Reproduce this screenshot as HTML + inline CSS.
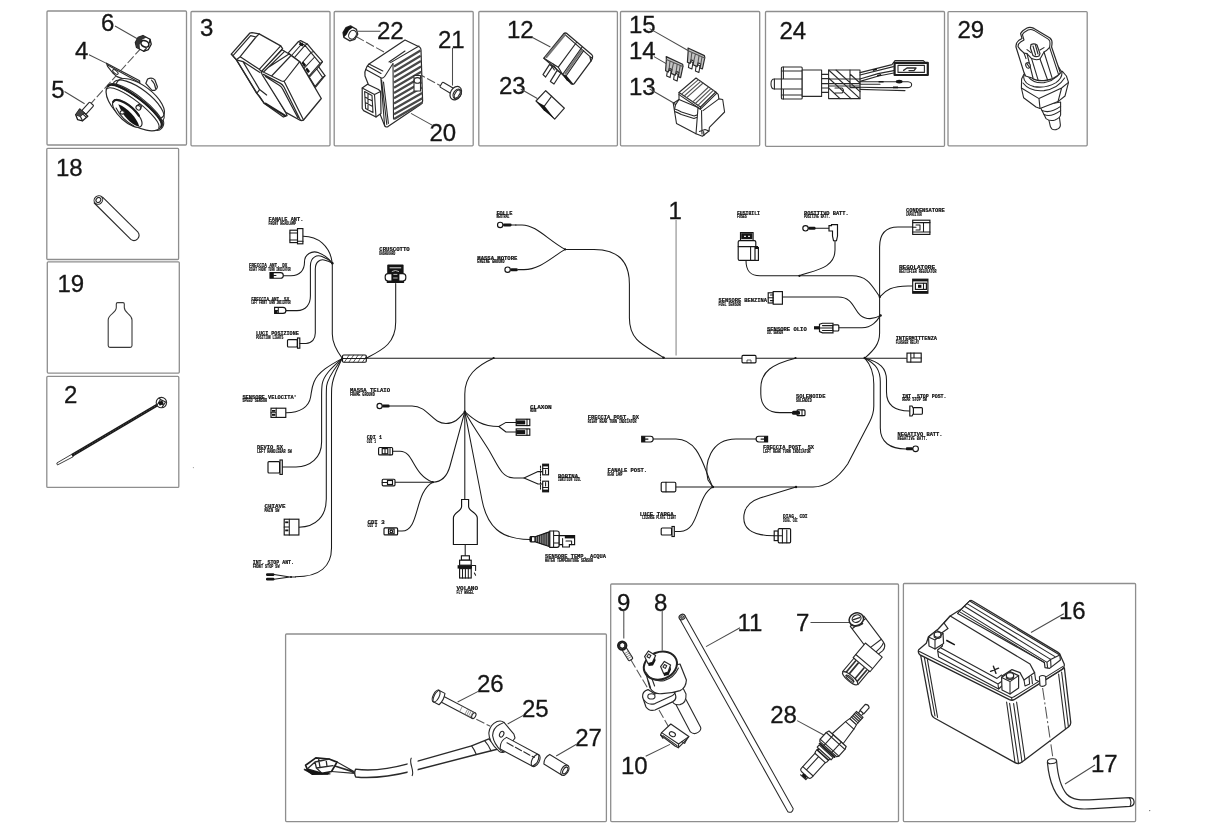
<!DOCTYPE html>
<html><head><meta charset="utf-8"><title>Impianto elettrico</title>
<style>
html,body{margin:0;padding:0;background:#fff;width:1214px;height:829px;overflow:hidden}
svg{display:block;filter:blur(.5px)}
.bx{fill:none;stroke:#8e8e8e;stroke-width:1.3}
.w{fill:none;stroke:#1a1a1a;stroke-width:1.05;stroke-linecap:round;stroke-linejoin:round}
.c{fill:#fff;stroke:#141414;stroke-width:1.15}
.k{fill:#141414;stroke:none}
.p{fill:none;stroke:#2a2a2a;stroke-width:1.1;stroke-linejoin:round;stroke-linecap:round}
.pf{fill:#fff;stroke:#2a2a2a;stroke-width:1.1;stroke-linejoin:round;stroke-linecap:round}
.pt{fill:none;stroke:#555;stroke-width:.6;stroke-linejoin:round;stroke-linecap:round}
.l{fill:none;stroke:#4c4c4c;stroke-width:1.05}
.d{fill:none;stroke:#555;stroke-width:1.05;stroke-dasharray:9 2.5}
.n{font-family:"Liberation Sans",sans-serif;font-size:24px;fill:#161616;stroke:#161616;stroke-width:.3}
.t{font-family:"Liberation Mono",monospace;font-size:6px;fill:#111;font-weight:bold;stroke:#111;stroke-width:.22}
.s{font-family:"Liberation Mono",monospace;font-size:4.7px;fill:#111;font-weight:bold;stroke:#111;stroke-width:.18}
</style></head>
<body>
<svg width="1214" height="829" viewBox="0 0 1214 829">
<rect width="1214" height="829" fill="#fff"/>
<!--BOXES-->
<g id="boxes">
<rect class="bx" x="47" y="11" width="139.5" height="134" rx="1"/>
<rect class="bx" x="191" y="11.5" width="139" height="134.3" rx="1"/>
<rect class="bx" x="334.2" y="11.5" width="139" height="134.3" rx="1"/>
<rect class="bx" x="478.8" y="11.5" width="138.6" height="134.3" rx="1"/>
<rect class="bx" x="620.5" y="11.5" width="139.2" height="134.3" rx="1"/>
<rect class="bx" x="765.5" y="11.5" width="179" height="134.8" rx="1"/>
<rect class="bx" x="948" y="11.6" width="139.2" height="134.2" rx="1"/>
<rect class="bx" x="46.8" y="148.3" width="131.8" height="111.2" rx="1"/>
<rect class="bx" x="47.3" y="261.8" width="132" height="111.3" rx="1"/>
<rect class="bx" x="46.8" y="376.4" width="132" height="111" rx="1"/>
<rect class="bx" x="285.6" y="634" width="320.8" height="187.6" rx="1"/>
<rect class="bx" x="610.7" y="584" width="287.8" height="237.6" rx="1"/>
<rect class="bx" x="903.4" y="583.5" width="232.2" height="238.1" rx="1"/>
</g>
<!--NUMBERS-->
<g id="nums" class="n">
<text x="101" y="30.5">6</text>
<text x="75" y="58.5">4</text>
<text x="51.3" y="97.8">5</text>
<text x="200" y="35.8">3</text>
<text x="377" y="39.2">22</text>
<text x="438" y="48">21</text>
<text x="429.5" y="140.7">20</text>
<text x="507" y="38.4">12</text>
<text x="499" y="93.5">23</text>
<text x="629" y="32.8">15</text>
<text x="629" y="59">14</text>
<text x="629" y="94.9">13</text>
<text x="779.5" y="39.2">24</text>
<text x="957.5" y="37.5">29</text>
<text x="56" y="176">18</text>
<text x="57.5" y="292">19</text>
<text x="64" y="402.8">2</text>
<text x="668.5" y="219">1</text>
<text x="477" y="692.4">26</text>
<text x="522" y="716.8">25</text>
<text x="575.2" y="745.7">27</text>
<text x="617" y="610.8">9</text>
<text x="654" y="610.8">8</text>
<text x="737.5" y="631">11</text>
<text x="796" y="631">7</text>
<text x="770.2" y="723">28</text>
<text x="621" y="774">10</text>
<text x="1059" y="618.6">16</text>
<text x="1091" y="771.8">17</text>
</g>
<g id="harness">
<path id="lead1" d="M676.1,219.8 V355.6" style="fill:none;stroke:#b4b4b4;stroke-width:1.7"/>
<!-- main trunk -->
<path class="w" d="M366.3,358.2 H906.4"/>
<!-- tape -->
<rect class="c" x="342.5" y="355" width="23.8" height="7.2" rx="1.2"/><path class="w" d="M342.5,358.5 H366.3"/>
<path class="w" style="stroke-width:.7" d="M344.5,362 l4.6,-6.8 M349,362 l4.6,-6.8 M353.5,362 l4.6,-6.8 M358,362 l4.6,-6.8 M362.5,362 l3.6,-5.4"/>
<!-- left upper trunk -->
<path class="w" d="M342.5,358.6 C336,350 332.3,343 332.3,334 V263"/>
<circle class="k" cx="332.4" cy="263.2" r="1.2"/>
<!-- fanale ant -->
<path class="w" d="M302.5,236.3 C318,236 330,246 332.3,263"/>
<!-- freccia ant dx -->
<path class="w" d="M282.4,275.7 H291 C300,275.7 304.5,270 304.5,262 C304.5,254 312,250.5 318,252.5 C324,254.5 329,259 332.3,263"/>
<!-- freccia ant sx -->
<path class="w" d="M285.6,310.6 H297 C306,310.6 310.4,304 310.4,296 V266 C310.4,257 317,254.5 322,256.5 C326,258 330,260.5 332.3,263"/>
<!-- luci posizione -->
<path class="w" d="M300.5,343.4 H306 C312,343.4 315.3,339 315.3,333 V269 C315.3,262 320,259 324,260 C327,260.7 330,261.8 332.3,263"/>
<!-- lower-left fan -->
<path class="w" d="M342,358.6 C330,365 318,372 314,382 C311.5,388 311.5,392 310.6,397 C309,407 300,412.7 286.3,412.7"/>
<path class="w" d="M342,358.6 C334,366 324,374 322.2,384 C321.6,388 321.6,392 321.6,396 V442 C321.6,458 310,466.9 296,466.9 H282.4"/>
<path class="w" d="M342,358.6 C337,366 328,376 326.6,386 C326.3,390 326.3,394 326.3,398 V499 C326.3,516 316,527.2 299,527.2"/>
<path class="w" d="M342,358.6 C339,366 332.4,376 331.7,388 C331.5,392 331.5,396 331.5,400 V548 C331.5,566 320,576.8 295.5,576.8"/>
<!-- cruscotto -->
<path class="w" d="M395.7,283.5 V322 C395.7,344 382,350 366.3,358.2"/>
<!-- folle / massa motore -->
<path class="w" d="M515.6,224.9 H522 C536,224.9 548,240 565.1,249.4"/>
<path class="w" d="M518,269.6 H524 C540,269.6 552,257 565.1,249.4"/>
<circle class="k" cx="565.1" cy="249.4" r="1.1"/>
<path class="w" d="M565.1,249.4 H594 C618,249.4 629.4,262 629.4,284 V318 C629.4,342 646,346 664,357.8"/>
<circle class="k" cx="663.5" cy="357.6" r="1.2"/>
<!-- star drop -->
<circle class="k" cx="493.6" cy="358" r="1.1"/>
<path class="w" d="M493.6,358.2 C476,366 464.8,376 464.8,394 V411.7"/>
<circle class="k" cx="464.8" cy="411.7" r="1.2"/>
<!-- massa telaio -->
<path class="w" d="M389.5,406 H412 C428,406 432,423.5 446,423.5 C456,423.5 460,417 464.8,411.7"/>
<!-- cdi group -->
<path class="w" d="M464.8,411.7 L450,466 C447,477 442,482 432.8,482.2"/>
<path class="w" d="M395.2,482.2 H432.8"/>
<circle class="k" cx="432.8" cy="482.2" r="1.1"/>
<path class="w" d="M392.7,451.2 H400 C414,451.2 412,474 432.8,482.2"/>
<path class="w" d="M397.7,531 H402 C420,531 414,492 432.8,482.2"/>
<!-- volano -->
<path class="w" d="M464.8,411.7 V499.5"/>
<path class="c" d="M461.6,499.5 H468.6 V506.5 C468.6,511.5 477.3,512 477.3,518 V544.5 H453.4 V518 C453.4,512 461.6,511.5 461.6,506.5 Z"/>
<path class="w" d="M465.2,544.5 V556"/>
<!-- claxon -->
<path class="w" d="M464.8,411.7 C474,420 482,426.5 498.8,426.5"/>
<path class="w" d="M516,422.4 H506 L498.8,426.5 L506,432 H516"/>
<!-- bobina -->
<path class="w" d="M464.8,411.7 C474,428 484,442 490,452 C498,466 502,478 514,478 H524"/>
<path class="w" d="M542.5,471.6 H538 L524,478 L538,484 H542.5"/>
<!-- temp acqua -->
<path class="w" d="M464.8,411.7 L482,500 C487,526 500,539.5 530,539.5"/>
<!-- rear group -->
<path class="w" d="M676,487 H813 C826,487 838,478 847.7,464 L869.6,422 C872.4,416.6 873.8,412 873.8,406 V384 C873.8,372 870,364 864.8,358.2"/>
<circle class="k" cx="712.8" cy="487" r="1.3"/>
<circle class="k" cx="796" cy="487" r="1.2"/>
<path class="w" d="M653.3,439 H676 C700,439 704,470 712.8,487"/>
<path class="w" d="M756,439 H736 C710,439 704,464 708,480 L712.8,487"/>
<path class="w" d="M675,531.4 H680 C700,531.4 696,496 712.8,487"/>
<path class="w" d="M796,487 L760,498 C748,502 743.8,510 743.8,518 C743.8,530 754,535.8 774.5,535.8"/>
<!-- solenoide -->
<circle class="k" cx="795.5" cy="358" r="1.1"/>
<path class="w" d="M795.5,358.2 C772,364 760.8,372 760.8,388 V394 C760.8,406 768,412.6 780,412.6 H792"/>
<!-- right junction -->
<circle class="k" cx="864.8" cy="358" r="1.3"/>
<path class="w" d="M864.8,358.2 C874,350 879.6,344 879.6,333 V247 C879.6,234 886,227 898,227 H912.5"/>
<path class="w" d="M864.8,358.2 C876,364 880.3,370 880.3,382 V428 C880.3,442 890,449 905.8,449"/>
<path class="w" d="M864.8,358.2 C880,362 886.5,368 886.5,380 V392 C886.5,404 894,411 909.5,411"/>
<circle class="k" cx="879.8" cy="296.8" r="1.2"/>
<circle class="k" cx="880.6" cy="315.4" r="1.2"/>
<!-- fusibili + positivo -->
<path class="w" d="M746,260.5 C746,272 751,275.8 760,275.8 H852 C868,275.8 872,286 879.8,296.8"/>
<path class="w" d="M835,240.7 V250 C835,268 816,270 799,275.8"/>
<circle class="k" cx="799.5" cy="275.8" r="1.1"/>
<!-- regolatore -->
<path class="w" d="M912.5,286 H908 C892,286 886,290 879.8,296.8"/>
<!-- benzina -->
<path class="w" d="M782.4,297 H838 C858,297 852,318.6 870,318.6 C875,318.6 878,317 880.6,315.4"/>
<!-- olio -->
<path class="w" d="M838.8,327.8 H862 C872,327.8 877,321 880.6,315.4"/>
<!-- positivo lead -->
<path class="w" d="M815.3,228.3 H829"/>
</g>
<g id="conn">
<!-- fanale ant -->
<rect class="c" x="289.9" y="230.2" width="7.8" height="12.4"/><rect class="c" x="297.5" y="228.6" width="5.4" height="15.2"/>
<path class="w" d="M290,233 H297.5 M290,240 H297.5 M297.5,241.3 H303"/>
<!-- freccia ant dx -->
<path class="c" d="M270,272.6 H280.5 Q283.3,272.6 283.3,275.4 Q283.3,278.2 280.5,278.2 H270 Z"/><rect class="k" x="270" y="272.6" width="3.8" height="5.6"/><path class="w" d="M273.5,275.4 H276"/>
<!-- freccia ant sx -->
<path class="c" d="M274.6,307.4 H283 Q285.9,307.4 285.9,310.4 Q285.9,313.4 283,313.4 H274.6 Z"/><path class="w" d="M278.3,307.4 V313.4 M274.6,310.4 H278.3"/><rect class="k" x="275" y="310.6" width="2.6" height="2.4"/>
<!-- luci posizione -->
<rect class="c" x="287.5" y="339.6" width="9.8" height="7.4" rx="1"/><rect class="c" x="297.5" y="338" width="2.3" height="10.2"/><path class="w" d="M299.8,343.4 H302"/>
<!-- cruscotto -->
<rect class="k" x="387.2" y="264.4" width="16.4" height="18.6" rx="1"/>
<rect class="c" x="385.2" y="273.6" width="20.6" height="7.4" rx="3"/>
<rect class="k" x="391.4" y="270" width="8" height="11.4"/>
<path d="M389.6,267.8 H401.2" style="stroke:#ddd;stroke-width:1;fill:none"/>
<path d="M391.8,271.6 Q395.4,269.4 399,271.6 M393.4,274.4 H397.4 M393.2,278 H397.6" style="stroke:#ccc;stroke-width:.9;fill:none"/>
<rect class="k" x="386.6" y="281" width="17.6" height="2.1" rx=".8"/>
<!-- sensore velocita -->
<rect class="c" x="271" y="408.2" width="14.8" height="9.2"/><path class="w" d="M276.2,408.2 V417.4 M271,412.8 H276.2"/><rect class="k" x="272" y="410" width="3.4" height="1.8"/><rect class="k" x="272" y="414" width="3.4" height="1.8"/>
<!-- devio sx -->
<rect class="c" x="268" y="461.6" width="11.6" height="11.4" rx="1"/><rect class="c" x="280" y="460" width="2.3" height="14.4"/>
<!-- chiave -->
<rect class="c" x="284.2" y="519.2" width="14.7" height="15.8"/><path class="w" d="M289.3,519.2 V535 M284.2,527 H289.3"/><rect class="k" x="285.2" y="521.4" width="3.2" height="1.8"/><rect class="k" x="285.2" y="529.5" width="3.2" height="1.8"/>
<!-- int stop ant -->
<path class="w" d="M274,574.6 L290,577 H295.5 M274,579.2 L290,577"/><rect class="k" x="266" y="573.2" width="8.4" height="2.7" rx="1.2"/><rect class="k" x="266" y="577.8" width="8.4" height="2.7" rx="1.2"/><circle class="k" cx="291" cy="577" r="1"/>
<!-- massa telaio -->
<circle class="c" cx="379.6" cy="406" r="2.6"/><rect class="k" x="382.2" y="404.6" width="7.4" height="2.8" rx="1.2"/>
<!-- cdi 1 -->
<rect class="c" x="378.6" y="447.5" width="14" height="7.4" rx="1"/><rect class="c" x="382.2" y="448.6" width="5.6" height="5.2"/><path class="w" d="M385,448.6 V453.8 M390,447.5 V454.9"/>
<!-- cdi mid -->
<rect class="c" x="382.2" y="479.2" width="12.8" height="6.6" rx="1"/><rect class="c" x="387.5" y="480.5" width="5" height="4"/><path class="w" d="M382.2,482.4 H387.5"/>
<!-- cdi 3 -->
<rect class="c" x="384" y="527.9" width="13.6" height="7" rx="1"/><rect class="c" x="388.5" y="529" width="5.6" height="4.8"/><circle class="c" cx="391.3" cy="531.4" r="1.3"/>
<!-- volano conn -->
<rect class="c" x="461.4" y="555.8" width="8" height="4.4"/><rect class="c" x="459.6" y="560.2" width="11.6" height="5"/>
<rect class="k" x="457.6" y="565.2" width="14.4" height="3.4"/><rect class="c" x="459.6" y="568.6" width="11.6" height="9.4"/>
<path class="w" d="M462.5,568.6 V578 M465.4,568.6 V578 M468.3,568.6 V578 M472,565.4 H475.6 V570.4 M474.4,573 l1.2,2.2"/>
<!-- claxon -->
<rect class="c" x="516.2" y="419.2" width="13.6" height="6.4"/><rect class="k" x="516.2" y="420.4" width="9" height="4"/><path class="w" d="M527,419.2 V425.6"/>
<rect class="c" x="516.2" y="428.9" width="13.6" height="6.4"/><rect class="k" x="516.2" y="430.1" width="9" height="4"/><path class="w" d="M527,428.9 V435.3"/>
<!-- bobina -->
<rect class="c" x="542.7" y="464.2" width="5.8" height="10.6"/><rect class="k" x="542.7" y="464.2" width="5.8" height="2.2"/><path class="w" d="M542.7,468.5 H548.5 M545.6,470 V473.5"/>
<rect class="c" x="542.7" y="481.2" width="5.8" height="10.6"/><rect class="k" x="542.7" y="489.6" width="5.8" height="2.2"/><path class="w" d="M542.7,487.5 H548.5 M545.6,482.5 V486"/>
<path class="w" style="stroke-dasharray:1.5 1.2" d="M540.5,466 V490"/>
<!-- temp acqua sensor -->
<rect class="c" x="530" y="536.6" width="5.2" height="5.2" rx="1"/><rect class="k" x="530" y="536.6" width="2" height="5.2"/>
<path class="c" style="fill:#8a8a8a" d="M535.2,536.8 L550,531.6 V546.8 L535.2,541.8 Z"/>
<path class="w" style="stroke-width:.9" d="M537.4,536 V542.6 M539.6,535.3 V543.3 M541.8,534.5 V544 M544,533.8 V544.8 M546.2,533 V545.6 M548.4,532.3 V546.3"/>
<path class="c" d="M549.8,531 H557 Q559.2,531 559.2,533 V545.3 Q559.2,547.3 557,547.3 H549.8 Z"/><path class="w" d="M553.6,531 V547.3 M553.6,535.5 H559.2 M553.6,543 H559.2"/>
<path class="c" d="M559.2,535.6 H574.6 V544.6 H569.4 V547 H562.6 V544.6 H559.2 Z"/><rect class="k" x="564.8" y="535.6" width="9.8" height="2.8"/><path class="w" d="M562.6,538.4 V544.6 M566,541 H571.6 V544.6"/>
<!-- freccia post dx -->
<path class="c" d="M641.7,436.2 H650.5 Q653.2,436.2 653.2,439.1 Q653.2,442 650.5,442 H641.7 Z"/><rect class="k" x="641.7" y="436.2" width="3.6" height="5.8"/><path class="w" d="M645.3,439.1 H648"/>
<!-- fanale post -->
<rect class="c" x="661.2" y="482.2" width="14.6" height="9.6" rx="1.2"/><path class="w" d="M666,482.2 V491.8"/>
<!-- luce targa -->
<rect class="c" x="661.2" y="528" width="10.4" height="7" rx="1"/><rect class="c" x="672" y="526.5" width="2.3" height="10"/>
<!-- freccia post sx -->
<path class="c" d="M767.6,436.2 H758.8 Q756.1,436.2 756.1,439.1 Q756.1,442 758.8,442 H767.6 Z"/><rect class="k" x="764" y="436.2" width="3.6" height="5.8"/><path class="w" d="M761,439.1 H764"/>
<!-- diag cdi -->
<rect class="c" x="774.2" y="531" width="4" height="9.6"/><rect class="c" x="778.2" y="528.6" width="12.4" height="14.2" rx="1"/><path class="w" d="M782.4,528.6 V542.8 M786.8,530 V542.8 M774.2,535.8 H782.4"/>
<!-- solenoide -->
<rect class="c" x="797" y="409.9" width="8" height="5.8" rx="1"/><rect class="k" x="792" y="410.8" width="8" height="4" rx="1.5"/><path class="w" d="M802,409.9 V415.7"/>
<!-- fusibili -->
<rect class="c" x="740.5" y="232.6" width="12.6" height="8"/><rect class="k" x="741.2" y="233.2" width="11.2" height="6"/><path d="M744,236.4 h2 M748,236.4 h2" style="stroke:#ddd;stroke-width:1.2;fill:none"/>
<rect class="c" x="738.2" y="240.6" width="17.6" height="19.8" rx="1.5"/><path class="w" d="M738.2,246.6 H755.8 M750.6,246.6 V260.4"/>
<rect class="c" x="755" y="247.5" width="3.4" height="12.9"/><rect class="k" x="755" y="246" width="3" height="3"/>
<!-- positivo batt -->
<circle class="c" cx="805.5" cy="228.3" r="2.7"/><rect class="k" x="808.2" y="226.8" width="7.4" height="3" rx="1.3"/>
<path class="c" d="M829,225.6 H831.5 V224.6 H837.5 V236 L836.5,240.7 H833.5 L832.5,236 V231 H829 Z"/>
<!-- condensatore -->
<rect class="c" x="912.7" y="220.2" width="17.2" height="14.2"/><path class="w" d="M912.7,222.6 H930 M912.7,232 H930 M923.5,222.6 V232 M916,225 H920 V230 H916 M912.7,227.3 H916"/>
<!-- regolatore -->
<rect class="c" x="912.7" y="279.2" width="15.2" height="14"/><rect class="k" x="912.7" y="279.2" width="15.2" height="2.2"/><rect class="k" x="912.7" y="291" width="15.2" height="2.2"/>
<rect class="c" x="915.4" y="283.2" width="11" height="6.2"/><rect class="k" x="918" y="284.8" width="3.4" height="3"/><path class="w" d="M923.5,283.2 V289.4"/>
<!-- benzina -->
<rect class="c" x="768.2" y="292.8" width="5" height="10.2"/><rect class="c" x="773.2" y="291.6" width="9.2" height="12.6"/><path class="w" d="M768.2,297.8 H773.2 M770.4,295 H773.2 M770.4,300.6 H773.2"/>
<!-- olio -->
<rect class="k" x="814" y="326.2" width="6" height="3.2"/><path class="c" d="M819.5,324.2 L822.5,323.2 H833 V332.8 H822.5 L819.5,331.6 Z"/><path class="w" d="M822.5,325.6 H833 M822.5,330.4 H833 M819.5,327.9 H833"/><rect class="c" x="833" y="324.8" width="5.8" height="6.2" rx="1"/>
<!-- intermittenza -->
<rect class="c" x="907" y="353.1" width="14.2" height="9"/><path class="w" d="M910.8,353.1 V362.1 M910.8,357.9 H921.2 M914,353.1 V357.9"/>
<!-- int stop post -->
<rect class="c" x="913" y="407.6" width="9.4" height="6.6" rx="1"/><path class="c" d="M909.8,406 H912 L913.4,408.5 V413.5 L912,416 H909.8 Z"/>
<!-- negativo -->
<circle class="c" cx="915.6" cy="448.8" r="2.8"/><rect class="k" x="905.8" y="447.2" width="7.2" height="3.1" rx="1.3"/>
<!-- folle -->
<circle class="c" cx="500.2" cy="224.9" r="2.7"/><rect class="k" x="503" y="223.4" width="8.6" height="3" rx="1.3"/><path class="w" d="M511,224.9 H516"/>
<!-- massa motore -->
<circle class="c" cx="507.6" cy="269.7" r="2.7"/><rect class="k" x="510.4" y="268.2" width="7.4" height="3" rx="1.3"/>
<!-- inline -->
<rect class="c" x="742" y="355.4" width="14" height="7.4" rx="1"/><path class="w" style="stroke-width:.7" d="M747,362.8 V360 H751 V362.8"/>
</g>
<g id="labels">
<text class="t" x="268.6" y="221" textLength="34.7" lengthAdjust="spacingAndGlyphs">FANALE ANT.</text>
<text class="s" x="268.6" y="224.7" textLength="27.4" lengthAdjust="spacingAndGlyphs">FRONT HEADLAMP</text>
<text class="t" x="249" y="266.9" textLength="38.4" lengthAdjust="spacingAndGlyphs">FRECCIA ANT. DX</text>
<text class="s" x="249" y="270.6" textLength="41.6" lengthAdjust="spacingAndGlyphs">RIGHT FRONT TURN INDICATOR</text>
<text class="t" x="251.2" y="300.5" textLength="38.0" lengthAdjust="spacingAndGlyphs">FRECCIA ANT. SX</text>
<text class="s" x="251.2" y="304.2" textLength="39.4" lengthAdjust="spacingAndGlyphs">LEFT FRONT TURN INDICATOR</text>
<text class="t" x="256" y="334.9" textLength="42.8" lengthAdjust="spacingAndGlyphs">LUCI POSIZIONE</text>
<text class="s" x="256" y="338.6" textLength="27.4" lengthAdjust="spacingAndGlyphs">POSITION LIGHTS</text>
<text class="t" x="379.3" y="251.3" textLength="30.4" lengthAdjust="spacingAndGlyphs">CRUSCOTTO</text>
<text class="s" x="379.3" y="255.0" textLength="15.9" lengthAdjust="spacingAndGlyphs">DASHBOARD</text>
<text class="t" x="242.4" y="398.5" textLength="54.4" lengthAdjust="spacingAndGlyphs">SENSORE VELOCITA&#39;</text>
<text class="s" x="242.4" y="402.2" textLength="24.6" lengthAdjust="spacingAndGlyphs">SPEED SENSOR</text>
<text class="t" x="257" y="449" textLength="26.0" lengthAdjust="spacingAndGlyphs">DEVIO SX</text>
<text class="s" x="257" y="452.7" textLength="34.8" lengthAdjust="spacingAndGlyphs">LEFT HANDLEBAR SW</text>
<text class="t" x="264.6" y="508.3" textLength="21.0" lengthAdjust="spacingAndGlyphs">CHIAVE</text>
<text class="s" x="264.6" y="512.0" textLength="14.9" lengthAdjust="spacingAndGlyphs">MAIN SW</text>
<text class="t" x="252.7" y="564" textLength="41.3" lengthAdjust="spacingAndGlyphs">INT. STOP ANT.</text>
<text class="s" x="252.7" y="567.7" textLength="26.8" lengthAdjust="spacingAndGlyphs">FRONT STOP SW</text>
<text class="t" x="350" y="392.4" textLength="40.0" lengthAdjust="spacingAndGlyphs">MASSA TELAIO</text>
<text class="s" x="350" y="396.1" textLength="24.7" lengthAdjust="spacingAndGlyphs">FRAME GROUND</text>
<text class="t" x="366.8" y="439.4" textLength="15.2" lengthAdjust="spacingAndGlyphs">CDI 1</text>
<text class="s" x="366.8" y="443.1" textLength="9.2" lengthAdjust="spacingAndGlyphs">CDI 1</text>
<text class="t" x="367.5" y="523.5" textLength="17.1" lengthAdjust="spacingAndGlyphs">CDI 3</text>
<text class="s" x="367.5" y="527.2" textLength="9.5" lengthAdjust="spacingAndGlyphs">CDI 3</text>
<text class="t" x="456.5" y="590" textLength="21.5" lengthAdjust="spacingAndGlyphs">VOLANO</text>
<text class="s" x="456.5" y="593.7" textLength="17.5" lengthAdjust="spacingAndGlyphs">FLY WHEEL</text>
<text class="t" x="530" y="408.7" textLength="21.7" lengthAdjust="spacingAndGlyphs">CLAXON</text>
<text class="s" x="530" y="412.4" textLength="6.4" lengthAdjust="spacingAndGlyphs">HORN</text>
<text class="t" x="558" y="477.7" textLength="20.0" lengthAdjust="spacingAndGlyphs">BOBINA</text>
<text class="s" x="558" y="481.4" textLength="23.0" lengthAdjust="spacingAndGlyphs">IGNITION COIL</text>
<text class="t" x="545" y="558" textLength="61.0" lengthAdjust="spacingAndGlyphs">SENSORE TEMP. ACQUA</text>
<text class="s" x="545" y="561.7" textLength="48.0" lengthAdjust="spacingAndGlyphs">WATER TEMPERATURE SENSOR</text>
<text class="t" x="587.8" y="419" textLength="51.2" lengthAdjust="spacingAndGlyphs">FRECCIA POST. DX</text>
<text class="s" x="587.8" y="422.7" textLength="48.7" lengthAdjust="spacingAndGlyphs">RIGHT REAR TURN INDICATOR</text>
<text class="t" x="607.6" y="472" textLength="39.4" lengthAdjust="spacingAndGlyphs">FANALE POST.</text>
<text class="s" x="607.6" y="475.7" textLength="14.8" lengthAdjust="spacingAndGlyphs">REAR LAMP</text>
<text class="t" x="639.7" y="515.5" textLength="33.9" lengthAdjust="spacingAndGlyphs">LUCE TARGA</text>
<text class="s" x="642" y="519.2" textLength="34.0" lengthAdjust="spacingAndGlyphs">LICENSE PLATE LIGHT</text>
<text class="t" x="763" y="449.3" textLength="51.0" lengthAdjust="spacingAndGlyphs">FRECCIA POST. SX</text>
<text class="s" x="763" y="453.0" textLength="47.6" lengthAdjust="spacingAndGlyphs">LEFT REAR TURN INDICATOR</text>
<text class="t" x="783" y="517.8" textLength="24.6" lengthAdjust="spacingAndGlyphs">DIAG. CDI</text>
<text class="s" x="783" y="521.5" textLength="14.7" lengthAdjust="spacingAndGlyphs">DIAG. CDI</text>
<text class="t" x="796" y="397.8" textLength="29.4" lengthAdjust="spacingAndGlyphs">SOLENOIDE</text>
<text class="s" x="796" y="401.5" textLength="15.8" lengthAdjust="spacingAndGlyphs">SOLENOID</text>
<text class="t" x="737" y="214.7" textLength="23.0" lengthAdjust="spacingAndGlyphs">FUSIBILI</text>
<text class="s" x="737" y="218.4" textLength="9.8" lengthAdjust="spacingAndGlyphs">FUSES</text>
<text class="t" x="804" y="214.7" textLength="44.7" lengthAdjust="spacingAndGlyphs">POSITIVO BATT.</text>
<text class="s" x="804" y="218.4" textLength="26.0" lengthAdjust="spacingAndGlyphs">POSITIVE BATT.</text>
<text class="t" x="906" y="211.8" textLength="38.7" lengthAdjust="spacingAndGlyphs">CONDENSATORE</text>
<text class="s" x="906" y="215.5" textLength="15.7" lengthAdjust="spacingAndGlyphs">CAPACITOR</text>
<text class="t" x="899" y="269" textLength="36.0" lengthAdjust="spacingAndGlyphs">REGOLATORE</text>
<text class="s" x="899" y="272.7" textLength="37.5" lengthAdjust="spacingAndGlyphs">RECTIFIER REGULATOR</text>
<text class="t" x="718.5" y="302" textLength="48.5" lengthAdjust="spacingAndGlyphs">SENSORE BENZINA</text>
<text class="s" x="718.5" y="305.7" textLength="22.2" lengthAdjust="spacingAndGlyphs">FUEL SENSOR</text>
<text class="t" x="767" y="330.5" textLength="39.7" lengthAdjust="spacingAndGlyphs">SENSORE OLIO</text>
<text class="s" x="767" y="334.2" textLength="16.0" lengthAdjust="spacingAndGlyphs">OIL SENSOR</text>
<text class="t" x="895.7" y="340.4" textLength="41.3" lengthAdjust="spacingAndGlyphs">INTERMITTENZA</text>
<text class="s" x="895.7" y="344.1" textLength="23.3" lengthAdjust="spacingAndGlyphs">FLASHER RELAY</text>
<text class="t" x="902.2" y="397.7" textLength="44.3" lengthAdjust="spacingAndGlyphs">INT. STOP POST.</text>
<text class="s" x="902.2" y="401.4" textLength="24.7" lengthAdjust="spacingAndGlyphs">REAR STOP SW</text>
<text class="t" x="897.5" y="436" textLength="45.0" lengthAdjust="spacingAndGlyphs">NEGATIVO BATT.</text>
<text class="s" x="897.5" y="439.7" textLength="30.1" lengthAdjust="spacingAndGlyphs">NEGATIVE BATT.</text>
<text class="t" x="496.4" y="214.7" textLength="16.0" lengthAdjust="spacingAndGlyphs">FOLLE</text>
<text class="s" x="496.4" y="218.4" textLength="13.1" lengthAdjust="spacingAndGlyphs">NEUTRAL</text>
<text class="t" x="477.3" y="259.7" textLength="40.1" lengthAdjust="spacingAndGlyphs">MASSA MOTORE</text>
<text class="s" x="477.3" y="263.4" textLength="27.2" lengthAdjust="spacingAndGlyphs">ENGINE GROUND</text>
</g>
<g id="parts">
<g id="p1">
<!-- leaders -->
<path class="l" d="M115,26 L139.5,40 M89,54.8 L107,63.6 M64.5,91.5 L84.6,103.8"/>
<path class="d" d="M141.4,47.8 L90.7,103.8"/>
<!-- nut 6 -->
<g transform="translate(143.3,43.4) rotate(28)">
<path class="pf" style="stroke-width:1.3;stroke:#1c1c1c" d="M-7.4,-3 L-4,-6.8 L4,-6.8 L7.4,-3 L7.4,3 L4,6.8 L-4,6.8 L-7.4,3 Z"/>
<path class="k" d="M-7.4,-3 L-4,-6.8 L0,-6.8 L-2.6,-3 L-2.6,3 L0,6.8 L-4,6.8 L-7.4,3 Z" style="fill:#333"/>
<ellipse class="pf" style="stroke-width:1.6;stroke:#1c1c1c" cx="1.6" cy="-.4" rx="4.2" ry="3"/>
<path class="p" style="stroke-width:1.3" d="M4,-6.8 L5,-3.4 M4,6.8 L5,3"/>
</g>
<!-- bracket 4 -->
<path class="pf" style="stroke-width:1.2" d="M106.5,63.2 L107.6,66.4 L112.8,73 L117,76.6 L140,85 L139.6,80.8 Z"/>
<path class="p" d="M107.6,64.9 L139.4,82.4"/>
<ellipse class="pf" cx="115.4" cy="72" rx="3.3" ry="1.4" transform="rotate(38 115.4 72)"/>
<!-- stud -->
<path class="pf" style="stroke-width:1.2" d="M145.8,83.4 L147.6,79 Q152,77 154.8,79.8 L157.4,86.8 Q156.4,91 152,90.4 Z"/>
<path class="p" d="M151.5,80.2 Q155,83.4 155.6,88.6"/>
<!-- back body -->
<ellipse class="pf" style="stroke-width:1.2" cx="140.3" cy="98.8" rx="28.8" ry="12.8" transform="rotate(37.5 140.3 98.8)"/>
<ellipse class="p" cx="138.6" cy="101" rx="31" ry="11.6" transform="rotate(37.5 138.6 101)"/>
<!-- bottom tab -->
<path class="pf" d="M152,128.6 Q158,132.4 161.6,128.4 Q164.6,125 163.4,120.6 L156,122 Z"/>
<!-- rim + front dome -->
<g transform="translate(134.6,106.4) rotate(37.5)">
<path class="pf" style="stroke-width:1.2" d="M-33.6,0 A33.6,8.6 0 0 1 33.6,0 A33.6,16.6 0 0 1 -33.6,0 Z"/>
<path class="p" style="stroke-width:2.3;stroke:#1c1c1c" d="M-33.4,-.4 A33.4,8.6 0 0 1 33.4,-.4"/>
<path class="p" style="stroke-width:1.1" d="M-32.4,2.6 A32.4,8 0 0 1 32.4,2.6"/>
<path class="p" style="stroke-width:1.1" d="M-33,-3 A33.6,9.6 0 0 1 33,-3"/>
</g>
<!-- inner diaphragm -->
<g transform="translate(127.3,113.6) rotate(42)">
<ellipse class="pf" style="stroke-width:1.2" cx="0" cy="0" rx="18.6" ry="7.6"/>
<path class="p" style="stroke-width:2.2;stroke:#1c1c1c" d="M-18.4,.6 A18.4,7.4 0 0 1 10,-6.2"/>
<path class="k" d="M-13,-1 C-4,-4.6 10,-3.4 17.6,1.6 C10,6 -2,4.6 -13,-1 Z"/>
<path class="p" d="M-12,3.4 Q0,8.4 14,4.6"/>
</g>
<ellipse class="pf" cx="122.2" cy="112.4" rx="2.1" ry="1.7"/>
<!-- small boss -->
<ellipse class="pf" cx="138.4" cy="107.8" rx="2.6" ry="2.1" transform="rotate(40 138.4 107.8)"/>
<path class="p" d="M136.8,105.8 L139.2,103.8 L141.6,106.2 L140.2,109"/>
<!-- bolt 5 -->
<g transform="translate(84.5,111.8) rotate(-48)">
<rect class="pf" x="-1" y="-2.8" width="11.8" height="5.6" rx="1"/>
<path class="pf" style="stroke-width:1.3;stroke:#1c1c1c" d="M-8,-4.6 L-1,-5.4 L-1,5.4 L-8,4.6 L-10.4,0 Z"/>
<path class="p" style="stroke-width:1.2" d="M-8,-4.6 L-6.2,0 L-8,4.6 M-6.2,0 H-1 M-2.8,-5.2 V5.2"/>
<path class="k" style="fill:#444" d="M-8,-4.6 L-6.2,0 L-1,0 L-1,-5.4 Z"/>
</g>
</g>
<g id="p2">
<!-- connectors at back right -->
<path class="pf" style="stroke-width:1.2" d="M288.3,52.9 L298.5,41.5 L300.6,40.6 L307.3,44 L313.7,51.6 L322.5,61.7 L318.7,66.8 L325,75.7 L315.6,87.2 L299.7,61.7 Z"/>
<path class="p" d="M298.5,41.5 L305,45.4 L307.3,44 M305,45.4 L294.6,57.4 M305,45.4 L311,52.6 L302,63 M311,52.6 L313.7,51.6 M311,52.6 L320,63.4 L322.5,61.7 M320,63.4 L307.6,77.6 M314.6,57 L304,68.4 M316.8,69 L318.7,66.8 M316.8,69 L322.6,77.4 L325,75.7 M322.6,77.4 L313.6,88 M316.8,69 L309.6,77 M302.6,43 L292,55"/>
<path class="k" d="M300,42.6 l4,2 l-1.6,1.8 l-3.6,-2 z M303.2,61.6 l3,3.4 l-2,2 l-2.6,-4 z M307,67.6 l3,3.6 l-2,2 l-2.6,-4 z M312.6,83 l2.2,3 l-1.2,1.2 l-2,-3.2 z"/>
<!-- left block -->
<path class="pf" style="stroke-width:1.3" d="M231.3,54.1 L249.7,33.2 L252,32.6 L259.2,33.9 L280.7,45.9 L282.6,48.6 L262,72 L286,113 L287,115.6 L283.4,117 L264.3,103.5 L257,93.4 L236.4,59.8 Z"/>
<path class="p" style="stroke-width:1.2" d="M231.3,54.1 L236.4,59.8 L240.2,56.7 L256,37 L259.2,33.9 M256,37 L250.6,35.6 L233,55.6 M240.2,56.7 L259.2,69.3 L262,72 M236.4,59.8 L243,61.6 L260,72.6 M243,61.6 L259.6,89.6 L256.7,93.4 M259.6,89.6 L266.6,95 M236.4,59.8 L256.7,93.4 L259.4,96.2 L264.3,103.5 M259.2,69.3 L280.7,45.9"/>
<path class="p" style="stroke-width:2;stroke:#222" d="M265.6,103.6 L285,115.6"/>
<!-- right block -->
<path class="pf" style="stroke-width:1.3" d="M261.7,71.2 L282,49.7 L288.3,53.5 L299.7,61.7 L321.3,98.5 L303.5,120 Q301.6,121 299.6,120 L285.8,112.4 L262.4,75 Q261,73 261.7,71.2 Z"/>
<path class="p" style="stroke-width:1.2" d="M261.7,71.2 L281.6,81 Q284,82 285.4,80 L299.7,61.7 M284.5,82 L303.5,120 M263.4,74.4 L280.4,83.4 Q282.6,84.6 284,87 L300.6,120.4 M265.4,76.6 L279.6,85.6 Q281.6,87 283,89.6 L298,118 M263.6,72 L284.6,51.4 M269.3,66.8 L289,54.1 M271.6,76 L290.6,56"/>
</g>
<g id="p3">
<path class="l" d="M357.7,31.2 H380.4 M452.5,47.8 V85.4 M411,113.4 L433,125.6"/>
<path class="d" d="M356,36.5 L384,52 M417,73 L441.6,86.3"/>
<!-- nut 22 -->
<g transform="translate(350.6,33.6) rotate(30)">
<path class="pf" style="stroke-width:1.3" d="M-7,-3 L-4,-6.6 L3,-6.6 L6.5,-3 L6.5,3 L3,6.6 L-4,6.6 L-7,3 Z"/>
<path class="k" d="M-7,-3 L-4,-6.6 L-1,-6.6 L-3,-2 L-3,3 L-4,6.6 L-7,3 Z"/>
<ellipse class="pf" cx="2.2" cy="0" rx="3.6" ry="4.6"/>
</g>
<!-- regulator body -->
<path class="pf" style="stroke-width:1.2" d="M405,40 L419.5,47 Q421,48 421,50 L422.6,101 Q422.6,103.4 420.6,104.6 L388,126.6 Q385.8,127.8 384.6,125.6 L365,76 Q364.2,72 365.8,69.4 Q366.8,66 369,64 Z"/>
<!-- front (left) face -->
<path class="p" d="M365.8,69.4 L380.8,77.8 Q383,79 385,76 L393,63.5 M380.8,77.8 L384.6,125.6 M367.6,66 L381,73.5 M381.6,80 L386.8,124.5 M383.5,82 L388.4,123.4 M369,64 L382.8,71"/>
<path class="p" d="M389,62 L405,51 M393,64 L393.5,119 M390.6,62.6 L419,46"/>
<!-- fins -->
<path class="p" style="stroke-width:2.3;stroke:#484848;stroke-linecap:butt" d="M394,66.5 L420.5,50.5 M394,71.8 L420.7,55.8 M394,77.1 L420.9,61.1 M394,82.4 L421.1,66.4 M394,87.7 L421.3,71.7 M394,93 L421.5,77 M394,98.3 L421.7,82.3 M394,103.6 L421.9,87.6 M394,108.9 L422.1,92.9 M394,114.2 L422.3,98.2 M394,119 L422.4,102.6"/>
<path class="pf" d="M414,75.5 H420.5 V91 H414 Z"/>
<ellipse class="pf" cx="417.4" cy="80.4" rx="3.2" ry="2.8"/>
<!-- connector -->
<path class="pf" style="stroke-width:1.2" d="M362.2,88 L367.5,84.2 L378.5,89.5 L380.6,91.5 L381,113.5 L376,117 L363.6,110.6 L362.2,108.5 Z"/>
<path class="p" d="M362.2,88 L374.5,94.5 L380.6,91.5 M374.5,94.5 L376,117 M364.6,91.5 L372,95.6 L373,112.6 L365.6,108.6 Z M365,97 L372.4,101 M365.2,102.6 L372.7,106.6 M368,93.4 V110"/>
<!-- bolt 21 -->
<g transform="translate(441.2,84.4) rotate(31)">
<rect class="pf" x="0" y="-2.9" width="13" height="5.8" rx="1"/>
<ellipse class="pf" style="stroke-width:1.2" cx="17" cy="0" rx="5.2" ry="7.2"/>
<ellipse class="pf" style="stroke-width:1.2" cx="18.6" cy="0" rx="3.6" ry="5.2"/>
<path class="p" d="M18.6,-5.2 L20.8,-2.6 L20.8,2.6 L18.6,5.2 L16.6,2.6 L16.6,-2.6 Z"/>
</g>
</g>
<g id="p4">
<path class="l" d="M532,37.3 L550.4,47 M520.7,89 L537.3,98.5"/>
<!-- relay 12 pins -->
<path class="pf" style="stroke-width:1.2" d="M549.4,64.6 L543,74.6 L545.6,77 L552.4,66.6 Z"/>
<path class="pf" style="stroke-width:1.2" d="M557,70.6 L550.4,81.4 L554,84 L561,73 Z"/>
<!-- body -->
<path class="pf" style="stroke-width:1.3" d="M543.9,58.2 L563.6,33.8 Q565,32.4 566.8,33.4 L591.6,54.4 Q593.4,56.2 592.4,58.2 L590.9,61.2 L574.4,83.4 Q572.8,84.8 571,83.6 L562.6,74.5 Z"/>
<path class="p" style="stroke-width:1.2" d="M543.9,58.2 L558.3,67.2 L576.4,42.5 M558.3,67.2 L562.6,74.5 L581.9,47.3 M565,34.6 L589.8,56.4 L590.9,61.2 M589.8,56.4 L592.4,58.2 M562.6,74.5 L566,76 L583.6,50.6 M566,76 L572.8,84.1"/>
<path class="p" style="stroke:#777;stroke-width:2.2" d="M546.4,57 L564.4,35.4 M565.4,73.6 L581.4,50.6"/>
<path class="k" d="M562.6,74.5 L566,76 L572.8,84.1 L566.6,80.6 Z"/>
<path class="p" d="M553,64 L556.6,69.6 M551.6,66 L554.4,70"/>
<!-- block 23 -->
<path class="pf" style="stroke-width:1.2" d="M545.7,90.7 L564.4,108.2 L554.7,119.1 L536,101 Z"/>
<path class="p" style="stroke-width:1.1" d="M551.7,96.2 L544.5,105.8"/>
<path class="k" d="M536,101 L544.5,105.8 L554.7,119.1 L543.6,110.2 Z"/>
</g>
<g id="p5">
<path class="l" d="M649.6,28.6 L688,50.5 M654,56.6 L666.2,63.6 M649.6,89 L675,103.8"/>
<!-- fuse 15 -->
<g transform="translate(687.4,48)">
<path class="pf" d="M2,13 L1,19.5 L4.5,21 L5.6,14.5 Z M9,16 L8,23 L11.5,24.5 L12.6,18 Z"/>
<path class="pf" style="stroke-width:1.2;fill:#c4c4c4" d="M0.6,0 L17,7.6 L17.4,9.6 L15,21 L12.6,20 L13.4,16 L10.6,14.8 L9.8,18.6 L5.6,16.8 L6.4,13 L3.6,11.8 L2.8,15.4 L0,14.2 L0.8,2.8 Z"/>
<path class="p" style="stroke:#555" d="M0.8,2.8 L17.2,10 M4.4,4.4 L3.6,11.8 M8,6 L6.4,13 M11.6,7.6 L10.6,14.8 M14.6,9 L13.4,16"/>
</g>
<!-- fuse 14 -->
<g transform="translate(665.6,56.6)">
<path class="pf" d="M2,13 L1,19.5 L4.5,21 L5.6,14.5 Z M9,16 L8,23 L11.5,24.5 L12.6,18 Z"/>
<path class="pf" style="stroke-width:1.2;fill:#c4c4c4" d="M0.6,0 L17,7.6 L17.4,9.6 L15,21 L12.6,20 L13.4,16 L10.6,14.8 L9.8,18.6 L5.6,16.8 L6.4,13 L3.6,11.8 L2.8,15.4 L0,14.2 L0.8,2.8 Z"/>
<path class="p" style="stroke:#555" d="M0.8,2.8 L17.2,10 M4.4,4.4 L3.6,11.8 M8,6 L6.4,13 M11.6,7.6 L10.6,14.8 M14.6,9 L13.4,16"/>
</g>
<!-- holder 13 -->
<path class="pf" style="stroke-width:1.1" d="M673.3,103.3 L679,99.5 L679,92.5 L696,78 L715.7,92 L718.2,94.4 L718.9,98.9 L722.7,99.5 L724.6,112 L709.4,127.3 L709,131 L702.4,136.2 L696,133.7 L676.5,123.5 Z"/>
<path class="p" d="M679,92.5 L700.5,107 L715.7,92 M679,94.6 L700.5,109.2 L716.6,93.4 M700.5,107 V109.2"/>
<path class="p" style="stroke:#555" d="M681.6,94.2 L698.4,79.7 M684.2,96 L700.7,81.4 M686.7,97.7 L703.1,83 M692.8,101.8 L708.6,87 M695.3,103.5 L711,88.6 M697.9,105.3 L713.3,90.3"/>
<path class="p" d="M679,99.5 L698,107.6 L700.5,109.2 M698,107.6 L696,133.7 M673.3,103.3 L675.6,104.6 L674.6,109 Q677,109.6 681.5,112 L694.2,116 L697.3,114.7 M675.6,104.6 L679,99.5 M674.8,111.6 Q677,112 681.3,114.4 L694,118.4 L697,117.2 M701.5,110.6 L702,134 M718.9,98.9 L703,110.6 M703.6,131.6 L704,135.4 M699.4,131.4 L705,129.4 L709,131"/>
</g>
<g id="p6">
<!-- left tab -->
<path class="pf" d="M782,79 H774.4 Q771,79 771,84 Q771,89 774.4,89 H782 Z"/><path class="p" d="M774.4,79 V89"/>
<!-- block 1 -->
<rect class="pf" x="781.4" y="67" width="20.8" height="32" rx="1"/>
<path class="p" d="M781.4,71 H802.2 M781.4,95 H802.2 M783.4,67 V79 M783.4,89 V99 M781.4,79 H802.2 M781.4,89 H802.2"/>
<!-- block 2 -->
<rect class="pf" x="802.2" y="70" width="19.4" height="26.4"/>
<!-- short wires -->
<path class="p" d="M821.6,74.4 H828.6 M821.6,78.6 H828.6 M821.6,83.6 H828.6 M821.6,88 H828.6 M821.6,92.4 H828.6"/>
<!-- hatch block -->
<rect class="pf" x="828.6" y="70" width="31.4" height="28.6"/>
<path class="p" d="M828.6,70 L860,98.6 M836,70 L860,91.6 M828.6,78 L851,98.6 M828.6,88 L840,98.6 M850,70 V87.6 M850,87.6 H860 M850,74 L860,83 M835,88 H842 Q845,90.4 842,93 H835"/>
<path class="p" d="M828.6,79 H860 M828.6,83.6 H860 M828.6,86 H860"/>
<!-- wires to right connector -->
<path class="p" d="M860,72.6 L892,64.6 L895,60.6 H923.4 L925,62.4 M860,75 L893.4,66.6 M860,79 L878,73.6 L893.8,70.6 M860,81.4 L878.6,76 L893.8,73"/>
<path class="k" d="M872.6,69.6 l4,-1 l.4,1.4 l-4,1 z M877,75 l4,-1 l.4,1.4 l-4,1 z"/>
<!-- right connector -->
<rect class="pf" style="stroke-width:2.2;stroke:#1e1e1e" x="894.6" y="62.8" width="33.2" height="12.2"/>
<rect class="pf" x="898" y="65.4" width="26.4" height="7"/>
<path class="p" style="stroke-width:1.3" d="M903.6,70.4 L907,68 H916 L914,70.6 H909"/>
<!-- loop wire -->
<path class="p" d="M860,81.8 H908 Q911.8,82.2 911.6,85 Q911.4,87.6 907.6,87.6 L880,87.6 L860,87.2 M860,84.2 H880 M860,89.4 L880,90 L905,90.6"/>
<ellipse class="k" cx="899.2" cy="81.6" rx="3.4" ry="1.9"/>
<path class="k" d="M878.6,81 h5 v1.6 h-5 z M893,86.6 h5 v1.6 h-5 z"/>
</g>
<g id="p7">
<!-- tip -->
<path class="pf" d="M1048.4,118 L1050.4,126.6 Q1052,130.6 1056,129.6 Q1060.4,128.4 1060.4,125 L1059,114 Z"/>
<!-- thread body -->
<path class="pf" d="M1039.7,106 L1046,118.6 Q1050,121.6 1055,120 Q1060,118 1060.6,115 L1060.6,102 Z"/>
<path class="p" d="M1042,110.6 Q1050,114 1060.6,106.4 M1044,114.6 Q1051,117.6 1060.6,110.6"/>
<!-- hex nut -->
<path class="pf" style="stroke-width:1.1" d="M1021.6,79 L1024,74 L1062.4,71.4 L1066.4,76 L1068.5,82.4 L1065,96 L1058,101.6 L1040,108.4 L1036,107 L1023.6,97.7 L1021.4,88 Z"/>
<path class="p" d="M1021.4,88 L1039,98.6 L1040,108.4 M1039,98.6 L1061.6,88 L1068.5,82.4 M1061.6,88 L1058,101.6 M1023,83 Q1030,92 1044,90.6 Q1058,88.6 1064.6,78"/>
<!-- collar -->
<path class="pf" d="M1023.6,77 Q1024,84 1034,86.6 Q1046,88.6 1056,82.6 Q1062,78.6 1062,72.6 L1058,66 L1026,70 Z"/>
<path class="p" d="M1029,77.6 Q1034,83.6 1044,82.6 Q1053,81.4 1057.6,75"/>
<!-- connector housing -->
<path class="pf" style="stroke-width:1.2" d="M1020.6,33.6 Q1022,30.6 1027,28 Q1030,26.6 1034,28.4 L1050,38 Q1052.4,40 1052,44 L1051.6,47 L1060.4,73 Q1055,79.6 1044,80.6 Q1035,81 1032,78 L1025.6,76 L1024,72.6 L1016,47 Q1015.6,43 1018.6,40.6 L1022,38.4 Z"/>
<path class="p" d="M1022.4,34.6 Q1024,32 1028,30 Q1031,28.8 1034,30.4 L1048.6,39.4 Q1050.4,41 1050,44 L1049.6,47.4 Q1047,50.6 1044,52 L1040,59 Q1036,60.6 1031.6,58.6 L1027,53.6 L1024,53 Q1020,50 1018,46.6 Q1018,43.6 1020.6,42 L1024,40 Z"/>
<path class="p" d="M1027,53.6 L1033,78 M1040,59 L1047.6,80 M1049.6,47.4 L1058.6,74.6 M1024,53 L1026,58.6 M1031.6,58.6 L1038,79.6 M1044,52 L1052,77.6"/>
<!-- inner pin -->
<path class="pf" style="stroke-width:1.2" d="M1030.4,48 L1031,44.6 Q1034,43 1037,45 L1040,53.6 L1039,56 Q1036,57.6 1033,55.6 Z"/>
<path class="p" d="M1033,46 L1035.6,55 M1035.4,45 L1038,54 M1027,49.6 L1031,52.6 M1040,50 L1044,47.6"/>
<ellipse class="pf" cx="1028" cy="65.4" rx="2.2" ry="2.8" transform="rotate(-20 1028 65.4)"/>
<path class="p" d="M1027,63.6 L1029.2,67"/>
</g>
<g id="p8">
<!-- tube 18 -->
<path class="pf" style="stroke:#2a2a2a;stroke-width:1.1" d="M94.2,203 L130.8,239.4 Q134.4,242 137.6,238.8 Q140.4,235.6 138,232.2 L102.6,197.2 Z"/>
<ellipse class="pf" style="stroke:#2a2a2a;stroke-width:1.1" cx="98.4" cy="200" rx="4.6" ry="4" transform="rotate(-45 98.4 200)"/>
<ellipse class="pf" style="stroke:#2a2a2a;stroke-width:1.1" cx="98.4" cy="200" rx="2.6" ry="2.2" transform="rotate(-45 98.4 200)"/>
<!-- bottle 19 -->
<path class="pf" style="stroke:#3a3a3a;stroke-width:1.1" d="M117.6,302.6 H123 Q124.3,302.6 124.3,304 V307.6 C124.3,313.6 132,313.6 132,320 V345.6 Q132,347.4 130.2,347.4 H110 Q108.2,347.4 108.2,345.6 V320 C108.2,313.6 116.3,313.6 116.3,307.6 V304 Q116.3,302.6 117.6,302.6 Z"/>
<!-- cable tie 2 -->
<path class="pf" style="stroke-width:.9" d="M57.3,464.6 L56.8,463 L71.6,454.4 L73,456.4 Z"/>
<path d="M72,455.4 L158.6,404.2" style="stroke:#1a1a1a;stroke-width:3;fill:none"/>
<path d="M74,454.2 L156,405.7" style="stroke:#777;stroke-width:.6;stroke-dasharray:1 2;fill:none"/>
<circle class="pf" style="stroke-width:1.1" cx="161.4" cy="402.6" r="5.2"/>
<path class="p" d="M157,405.2 L160.6,399.4 L165.6,402 L162,407.4 M160.6,399.4 L159,398 M158.6,402.6 L163.6,405"/>
<rect class="k" x="158.6" y="401.2" width="4.6" height="3.6" transform="rotate(-30 161 403)"/>
<circle class="k" cx="193.4" cy="467.6" r=".6" style="fill:#999"/>
<circle class="k" cx="1149.7" cy="810.6" r=".7" style="fill:#666"/>
</g>
<g id="p9">
<path class="l" d="M478.7,691.1 L457.6,702 M523.3,715.4 L507.6,724 M576.5,744.3 L556.2,756"/>
<path class="d" d="M476.3,719.3 L490.4,726.3"/>
<!-- cable -->
<path class="pf" style="stroke-width:1.4" d="M355.7,769.1 C366,770.6 384,770.4 408.9,763.6 L471.6,745.9 L488.9,738.9 L498.2,749 L476.3,754.5 L410.5,771.5 C386,777.6 366,778 355.7,777 Q353.6,773 355.7,769.1 Z"/>
<path class="p" d="M471.6,745.9 Q474.6,750 476.3,754.5 M484.6,740.6 Q489,745.6 491,750.8"/>
<path d="M407.6,758 H417.6 V776.6 H407.6 Z" fill="#fff" stroke="none"/>
<path class="p" d="M411.2,758.2 C408.6,763 414.6,770 412.2,775.6"/>
<!-- connector -->
<path class="p" d="M337,762.1 L354,771.6 M331.5,771.5 L354.6,773.4 M334,766 L354,772.4 M329,764 L352,771"/>
<path class="pf" style="stroke-width:1.7;stroke:#1c1c1c" d="M305.6,765.2 L315.8,757.9 L329.1,759 L337,762.1 L331.5,771.5 L322,773.4 L307.2,769.1 Z"/>
<path class="p" style="stroke-width:1.3" d="M307.2,769.1 L315,762 L329.1,759 M315,762 L316.4,768 L322,773.4 M316.4,768 L333,765.6 M304.4,769.6 L312,773.6 L330,773.8 M318.6,758.4 L320,767.4 M326,759 L327,766.4"/>
<path class="k" d="M303.6,768.6 L311,770.4 L323,773 L330,772.6 L328,774.8 L312,775 Z"/>
<!-- bolt 26 -->
<g transform="translate(438.8,697.4) rotate(27.5)">
<rect class="pf" x="2" y="-3.1" width="37.5" height="6.2"/>
<ellipse class="pf" cx="39.5" cy="0" rx="1.8" ry="3.1"/>
<path class="p" style="stroke:#666;stroke-width:.6" d="M25,-3 V3 M31,-3 V3 M33,-3 V3 M35,-3 V3 M37,-3 V3"/>
<path class="pf" style="stroke-width:1.1" d="M-3.4,-6.4 H3.6 Q6,0 3.6,6.4 H-3.4 Q-6.4,0 -3.4,-6.4 Z"/>
<ellipse class="p" cx="-3" cy="0" rx="3" ry="6.4"/>
</g>
<!-- part 25 -->
<path class="pf" style="stroke-width:1.1" d="M488.9,732.6 Q490,724.6 497,721.6 Q501,720 504,722.4 L513.9,734.2 L515,738 L505,751.6 Q502,753.6 499,751.2 Q494,747 491,741.4 Q488.6,737 488.9,732.6 Z"/>
<path class="p" d="M492.6,735.6 Q493,727.6 499.6,724.4 Q502.4,723.4 504,722.4 M492.6,735.6 Q494,744 501,750.6 Q503,752.4 505,751.6"/>
<ellipse class="pf" cx="501.7" cy="734.2" rx="2" ry="3.1" transform="rotate(25 501.7 734.2)"/>
<g transform="translate(503.4,743.2) rotate(28.2)">
<path class="pf" style="stroke-width:1.1" d="M0,-6.6 H36.6 Q41,0 36.6,6.6 H0 Q-4.4,0 0,-6.6 Z"/>
<ellipse class="p" cx="36.6" cy="0" rx="3.6" ry="6.6"/>
<path class="p" style="stroke-dasharray:7 2.5" d="M3,-2 H34"/>
</g>
<!-- sleeve 27 -->
<g transform="translate(546.8,759.2) rotate(31.5)">
<path class="pf" style="stroke-width:1.1" d="M0,-5.6 H21.4 Q25.6,0 21.4,5.6 H0 Q-3.4,0 0,-5.6 Z"/>
<ellipse class="pf" style="stroke-width:1.2" cx="21.2" cy="0" rx="3.4" ry="5.6"/>
<ellipse class="p" style="stroke-width:1.2" cx="21.6" cy="0" rx="2" ry="3.8"/>
</g>
</g>
<g id="p10">
<path class="l" d="M623.8,610.6 V638.6 M662.2,610.6 V650.4 M740,627.8 L706,646.6 M810.5,622.4 H849 M797.2,720.6 L823.8,735 M645.7,756.2 L670,744.4"/>
<path class="d" d="M630.8,659.8 L650.4,692.7 M659,710 L672.3,733.4"/>
<!-- rod 11 -->
<g transform="translate(681.9,616.6) rotate(60.7)">
<path class="pf" style="stroke-width:1" d="M0,-3.1 H222 Q226,0 222,3.1 H0 Q-3.4,0 0,-3.1 Z"/>
<ellipse class="pf" cx="0.4" cy="0" rx="2.6" ry="3.1"/><ellipse class="p" cx="0.4" cy="0" rx="1.1" ry="1.4"/>
</g>
<!-- bolt 9 -->
<g transform="translate(622.2,645.7) rotate(58)">
<rect class="pf" x="2" y="-2.4" width="14.6" height="4.8" rx="1"/>
<path class="p" style="stroke:#555;stroke-width:.6" d="M8,-2.4 V2.4 M10,-2.4 V2.4 M12,-2.4 V2.4 M14,-2.4 V2.4"/>
</g>
<circle class="pf" style="stroke-width:1.8;stroke:#1c1c1c;fill:#555" cx="622.2" cy="645.6" r="4.3"/>
<path class="pf" style="stroke-width:1.2;stroke:#1c1c1c" d="M619.6,644.2 L622,642.2 L624.8,643.8 L624.8,647 L622.4,648.6 L619.8,647 Z"/>
<!-- coil 8: stem -->
<path class="pf" style="stroke-width:1.1" d="M676.3,705.2 L690.4,731.9 Q694,735 698,732.4 Q701.6,730 700.6,727.2 L684,695.8 Z"/>
<!-- collar under body -->
<path class="pf" style="stroke-width:1.1" d="M671,697 Q672,706 680,704.6 Q686.6,703 686,694 L683,688 L671,690 Z"/>
<!-- bracket -->
<path class="pf" style="stroke-width:1.2" d="M648,689.6 Q642,691.6 642.6,697 L646,707 Q649,711.6 655,710 L673,701.6 Q677,699 675.4,694.6 L671.6,687 L655,694 Z"/>
<path class="p" d="M644,700 Q648,705.6 655,703.6 L672.6,695.4 Q675,694 675.2,692"/>
<ellipse class="pf" cx="651.4" cy="696.4" rx="3.6" ry="2.6"/>
<!-- body -->
<path class="pf" style="stroke-width:1.2" d="M645.6,672 L650,688 Q654,694.6 662,693.6 Q672,693.4 680,690.6 Q686,688 686.4,680 L680,664 Z"/>
<path class="p" d="M650.6,688 L648.4,681 M654.6,686 L651,676"/>
<!-- top ring -->
<ellipse class="pf" style="stroke-width:2;stroke:#222" cx="660.4" cy="665.6" rx="17" ry="13.6" transform="rotate(-22 660.4 665.6)"/>
<path class="p" d="M645.6,672 Q652,682.6 664,680.6 Q674,678 678.4,668"/>
<!-- tabs -->
<path class="pf" style="stroke-width:1.2" d="M644.6,656.6 L648.4,651 L655.6,655.4 L652.4,662.4 L648,663.6 Z"/>
<rect class="pf" x="647.6" y="654.6" width="2.8" height="3" transform="rotate(30 649 656)"/>
<path class="k" d="M648,663.6 L652.4,662.4 L655,657.6 L655.6,660.6 L653,665.4 L648.6,666 Z"/>
<path class="pf" style="stroke-width:1.2" d="M660.6,666.6 L664.4,661.4 L670.6,665 L668,672 L663.6,673.6 Z"/>
<rect class="pf" x="663.6" y="665" width="2.6" height="3" transform="rotate(30 665 666.4)"/>
<path class="k" d="M663.6,673.6 L668,672 L670.6,666.6 L671,669.6 L668.6,675 L664,676 Z"/>
<!-- clip 10 -->
<path class="pf" style="stroke-width:1.2" d="M670.8,724 L688.8,736.6 L686.6,739.6 L678.4,747.6 L675,746 L660.6,735 L661.6,732.6 Z"/>
<path class="p" d="M661.6,732.6 L678.6,744 L688.8,736.6 M678.6,744 L678.4,747.6 M663,735.6 L677,745.6 M681.6,741.6 L684.6,743.4 L686.6,739.6 M660.6,735 L663,738.4"/>
<ellipse class="pf" cx="672.4" cy="734.2" rx="3.2" ry="2.2" transform="rotate(25 672.4 734.2)"/>
<!-- cap 7 -->
<g transform="translate(856.3,619.3) rotate(53)">
<path class="pf" style="stroke-width:1.1" d="M2,-8 H34 Q40,-8 41,-2 L41,9 H2 Z"/>
<path class="p" d="M5,-8 V8.6 M31,-8 V8 M35,-7.6 Q38,-4 38,8.6"/>
</g>
<ellipse class="pf" style="stroke-width:1.5;stroke:#222" cx="856.3" cy="619.3" rx="7.4" ry="6.2" transform="rotate(-25 856.3 619.3)"/>
<ellipse class="pf" style="stroke-width:1.2" cx="856.6" cy="618.6" rx="4.6" ry="3.6" transform="rotate(-25 856.6 618.6)"/>
<path class="p" style="stroke-width:1.4" d="M853.6,619.6 L859.6,617.6 M851,624.6 Q856,628 862.6,623.6"/>
<g transform="translate(868,657) rotate(130)">
<path class="pf" style="stroke-width:1.1" d="M-9,-11 H10 V-10 H27.6 Q30.6,0 27.6,10 H10 V11 H-9 Z"/>
<path class="p" d="M10,-10 V10 M6,-11 V11"/>
<path class="p" style="stroke-width:1.7;stroke:#333" d="M11,-7.4 H27 M11,-4 H27.6 M11,3.6 H27.6 M11,7 H27"/>
<ellipse class="pf" cx="27.8" cy="0" rx="3" ry="9.6"/><ellipse class="p" cx="28.2" cy="0" rx="1.6" ry="5"/>
<path class="p" d="M28,-5 V5"/>
</g>
<!-- spark plug 28 -->
<g transform="translate(867.2,706.2) rotate(132.3)">
<path class="pf" style="stroke-width:1.2" d="M0,-2.6 Q-2.4,0 0,2.6 H8 V-2.6 Z"/>
<path class="pf" d="M8,-2 H11 V2 H8 Z"/>
<path class="pf" style="stroke-width:1.1" d="M11,-4.4 H21 V4.4 H11 Z"/>
<path class="p" style="stroke-width:1.2;stroke:#333" d="M12.6,-4.4 V4.4 M14.6,-4.4 V4.4 M16.6,-4.4 V4.4 M18.6,-4.4 V4.4"/>
<path class="pf" style="stroke-width:1.1" d="M21,-4.6 L26,-5.6 L44,-7.4 V7.4 L26,5.6 L21,4.6 Z"/>
<path class="p" d="M26,-5.6 V5.6"/>
<path class="pf" style="stroke-width:1.2" d="M44,-11.6 L47,-12.6 H56 L58,-11.4 V11.4 L56,12.6 H47 L44,11.6 Z"/>
<path class="p" d="M44,-5 H58 M44,5.6 H58 M47,-12.6 V12.6 M56,-12.6 V12.6"/>
<path class="pf" style="stroke-width:2;stroke:#222" d="M59.6,-10 V10"/>
<path class="pf" d="M61,-9.4 H64 V9.4 H61 Z"/>
<path class="pf" style="stroke-width:1.1" d="M64,-7.8 H68 L70,-7 H90 Q92.6,-7 92.6,-4 V4 Q92.6,7 90,7 H70 L68,7.8 H64 Z"/>
<path class="p" style="stroke-width:1.6;stroke:#222" d="M66,-7.6 V7.6"/>
<path class="p" d="M70,-7 V7 M88,-7 V7 M70,2 H88"/>
<path class="p" style="stroke-width:1.3" d="M92.6,-4 H95.6 V3 M92.6,0 H94.6"/>
<rect class="k" x="92.6" y="-3" width="2.6" height="5"/>
</g>
</g>
<g id="p11">
<path class="l" d="M1063.8,613.8 L1031,632.5 M1095,765 L1065,784"/>
<!-- body -->
<path class="pf" style="stroke-width:1.3" d="M920.6,655 L931.7,714.8 Q932.4,716.8 934.4,718 L1015,762.6 Q1018.6,764.6 1022,762 L1069,726.4 Q1071,724.6 1070.7,722 L1064.4,668 L1012,700 Z"/>
<path class="p" d="M924.4,657.6 L935,716 M927.4,659.6 L937.6,717.4 M1006.6,702 L1015,762.6 M1013.6,703.6 L1022,762 M1016.6,702 L1025,759.6 M1058.6,674 L1065.4,728.6 M1061.6,672 L1068.4,726.6 M1009.6,703.4 L1018.6,763.7"/>
<!-- flange -->
<path class="pf" style="stroke-width:1.3" d="M918.7,649.7 L926.3,643.2 L928.5,636.7 L938.2,629 L950.2,616 L962.1,608.5 L969.7,600.9 Q971,600 972.6,601 L1058,652.4 Q1060.2,653.8 1060.6,656 L1064.2,664 Q1064.8,667.4 1062,669.4 L1014.6,699.4 Q1012,700.8 1009.4,699.6 L919.6,654.6 Q917.6,652 918.7,649.7 Z"/>
<path class="p" d="M919.4,651.6 L1010,697 Q1012,698 1014,696.8 L1062.6,666.6 M1011.6,697.6 L1012,700.4"/>
<!-- cover plate -->
<path class="pf" style="stroke-width:1.2" d="M950.2,616 L1030,664 L1034.6,672.6 L1024,680 L1020,672.6 L1012,669.6 L1002,676 L1004,684 L998.6,689 L938.6,657 L937.6,650 L942.4,646 L941.6,633 L948,628.6 L944,623 Z"/>
<path class="p" d="M938.2,651.6 L998,684 L1003.6,680 M998,684 L998.6,689 M941,648 L997,678.4 L1001.6,675"/>
<!-- back strip -->
<path class="pf" style="stroke-width:1.2" d="M962.1,608.5 L969.7,600.9 L1059.8,655.1 L1060.4,660 L1049.6,668.4 L1045,667.6 L1044.4,662.6 L957.6,613.4 Z"/>
<path class="p" d="M964.4,606.2 L1050.6,659.4 L1059.8,655.1 M962.6,610.6 L1047,662.4 L1050.6,659.4 M960.6,612.4 L1044.4,662.6 M967,603.6 L1055,656.6 M1047,662.4 L1047.6,667.6 M1050.6,659.4 L1051,666.6"/>
<!-- terminals -->
<path class="pf" style="stroke-width:1.2" d="M928.5,637 L936.6,630.6 L943,633.6 L943.6,643.6 L935,649 L929,646 Z"/>
<path class="p" d="M928.5,637 L935,640 L943,633.6 M935,640 L935,649"/>
<ellipse class="pf" cx="937.6" cy="634.6" rx="3.4" ry="2.6"/><path class="p" d="M934.2,634.6 V637 Q937.6,640 941,637 V634.6"/>
<path class="k" d="M946.6,639.6 l8.6,4.6 l-.7,1.4 l-8.6,-4.6 z"/>
<path class="pf" style="stroke-width:1.2" d="M1001.6,677.6 L1010,671.6 L1018.6,675.6 L1018.6,688 L1010,694 L1002,690 Z"/>
<path class="p" d="M1001.6,677.6 L1010,681.6 L1018.6,675.6 M1010,681.6 L1010,694"/>
<ellipse class="pf" cx="1010" cy="675.4" rx="3.6" ry="2.8"/><path class="p" d="M1006.4,675.4 V678 Q1010,681 1013.6,678 V675.4"/>
<path class="p" style="stroke-width:1.4;stroke:#222" d="M990.6,671.4 L998.6,668.2 M993.4,666.2 L996,673.4"/>
<!-- right end detail -->
<path class="p" d="M1024,680 L1025,686 L1029.6,684 L1029,676.6 M1034.6,672.6 L1035.6,680 L1040,682 M1031.6,676 L1032.4,683.6"/>
<path class="pf" d="M1039.4,676.6 Q1042.4,674.6 1045.6,676.4 L1046,684.6 Q1043,687.6 1040,685.6 Z"/>
<path class="d" style="stroke-dasharray:12 2.5 2 2.5" d="M1042.6,688 L1053.2,760"/>
<!-- tube 17 -->
<path class="pf" style="stroke-width:1.2" d="M1047.4,762.4 C1049,780 1054,796 1066,804 C1074,809.6 1082,809.4 1094,808.6 L1130,806.4 Q1134.6,805.6 1134,801.4 Q1133.6,797.6 1129.4,797.6 L1094,799.6 C1080,800.6 1072,800 1066.6,794 C1060,786 1057.6,774 1056.6,761 Q1052,758 1047.4,762.4 Z"/>
<ellipse class="pf" cx="1052" cy="761.2" rx="4.6" ry="2.4" transform="rotate(-8 1052 761.2)"/>
<path class="p" d="M1129.4,797.6 Q1132,801.6 1130,806.4"/>
</g>
</g>
</svg>
</body></html>
